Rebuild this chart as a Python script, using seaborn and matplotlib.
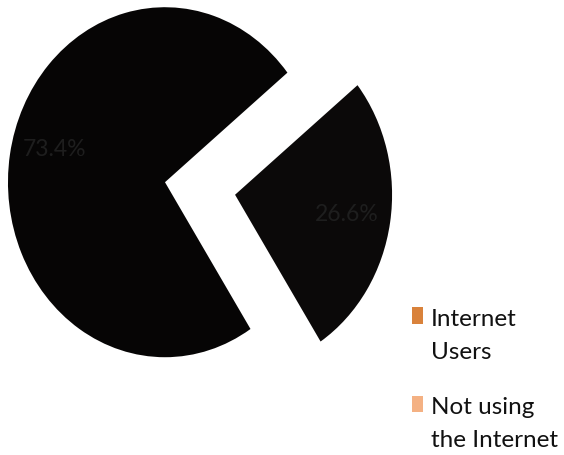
import matplotlib
matplotlib.use("Agg")
import matplotlib.pyplot as plt
import seaborn as sns
from matplotlib.patches import Patch, Rectangle
from matplotlib.legend_handler import HandlerPatch

# ---- data ----
categories = ["Internet\nUsers", "Not using\nthe Internet"]
shares = [26.6, 73.4]
legend_colors = ["#D9823B", "#F4B183"]
slice_colors = ["#0b0909", "#060505"]

sns.set_theme(style="white")
plt.rcParams["font.family"] = ["Lato", "DejaVu Sans"]

fig = plt.figure(figsize=(5.64, 4.55), dpi=100)
fig.patch.set_facecolor("white")
ax = fig.add_axes([0.00665, 0.1819, 0.696, 0.8077])
wedges, texts, autotexts = ax.pie(
    shares,
    colors=slice_colors,
    startangle=-57,
    explode=[0.226, 0.226],
    autopct="%1.1f%%",
    pctdistance=0.72,
    textprops=dict(color="#1e1e1e", fontsize=16.5),
    wedgeprops=dict(linewidth=0),
)
ax.set_aspect("auto")
ax.set_xlim(-1.25, 1.25)
ax.set_ylim(-1.05, 1.05)
for w in wedges:
    w.set_clip_on(False)
# nudge the large-slice label a little upward, as in the reference
x0, y0 = autotexts[1].get_position()
autotexts[1].set_position((x0 + 0.01, y0 + 0.075))


class TopHandler(HandlerPatch):
    def create_artists(self, legend, orig_handle, xdescent, ydescent,
                       width, height, fontsize, trans):
        h = 0.67 * fontsize
        p = Rectangle((-xdescent, -ydescent + 0.84 * fontsize), width, h,
                      facecolor=orig_handle.get_facecolor(),
                      edgecolor="none", transform=trans)
        return [p]


handles = [Patch(facecolor=c, edgecolor="none") for c in legend_colors]
leg = fig.legend(
    handles, categories,
    loc="upper left",
    bbox_to_anchor=(412 / 564, (455 - 309) / 455),
    frameon=False,
    fontsize=17.5,
    handlelength=0.46,
    handleheight=0.67,
    handletextpad=0.33,
    labelspacing=1.42,
    borderpad=0,
    borderaxespad=0,
    handler_map={Patch: TopHandler()},
)
for t in leg.get_texts():
    t.set_linespacing(1.69)
    t.set_color("#111111")

fig.savefig("out.png", dpi=100, facecolor="white")
